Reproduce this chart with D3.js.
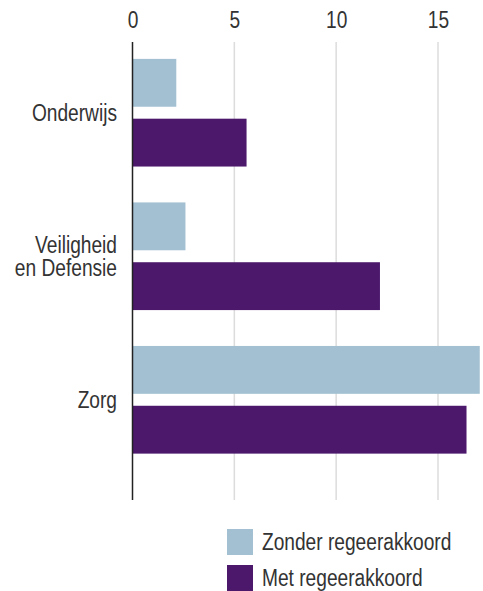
<!DOCTYPE html>
<html>
<head>
<meta charset="utf-8">
<script src="https://cdn.jsdelivr.net/npm/d3@7"></script>
<style>
  body { margin: 0; background: #fff; }
  text { font-family: "Liberation Sans", Arial, sans-serif; fill: #333; }
</style>
</head>
<body>
<div id="chart"></div>
<script>
// data
let categories = ["Onderwijs", "Veiligheid en Defensie", "Zorg"];
let categoryLines = [["Onderwijs"], ["Veiligheid", "en Defensie"], ["Zorg"]];
let series = ["Zonder regeerakkoord", "Met regeerakkoord"];
let zonderValues = [2.15, 2.6, 17.05];
let metValues = [5.6, 12.15, 16.4];
let ticks = [0, 5, 10, 15];
let colors = ["#a2c0d1", "#4b186b"];

let width = 483, height = 591;
let fontSize = 23.5;
let squeeze = 0.815; // narrow look, no condensed font installed

let svg = d3.select("#chart").append("svg")
    .attr("width", width)
    .attr("height", height);

// place a text at (px,py) and squeeze it horizontally
function place(px, py) {
    return "translate(" + px + "," + py + ") scale(" + squeeze + ",1)";
}

let x = d3.scaleLinear()
    .domain([0, 15])
    .range([132.5, 438]);

let y = d3.scaleBand()
    .domain(categories)
    .range([23, 489.5])
    .paddingInner(0.25)
    .paddingOuter(0.25);

let ySub = d3.scaleBand()
    .domain(series)
    .range([0, y.bandwidth()])
    .paddingInner(0.2);

let gridTop = 42, gridBottom = 500;

// grid lines
svg.append("g").selectAll("line")
    .data(ticks.filter(function(d) { return d > 0; }))
    .enter().append("line")
    .attr("x1", function(d) { return x(d); })
    .attr("x2", function(d) { return x(d); })
    .attr("y1", gridTop)
    .attr("y2", gridBottom)
    .style("stroke", "#dcdcdc")
    .style("stroke-width", 1.5);

// tick labels on top
let xAxis = svg.append("g")
    .attr("transform", "translate(0," + 28 + ")")
    .call(d3.axisTop(x).tickValues(ticks).tickSize(0).tickPadding(0));
xAxis.select(".domain").remove();
xAxis.selectAll("text")
    .attr("y", 0)
    .attr("dy", 0)
    .attr("transform", place(0, 0))
    .style("font-size", fontSize + "px")
    .style("font-family", "'Liberation Sans', Arial, sans-serif")
    .style("fill", "#333");

// bars
let rows = categories.map(function(c, i) {
    return { cat: c, values: [zonderValues[i], metValues[i]] };
});

let groups = svg.append("g").selectAll("g")
    .data(rows)
    .enter().append("g")
    .attr("transform", function(d) { return "translate(0," + y(d.cat) + ")"; });

groups.selectAll("rect")
    .data(function(d) { return d.values.map(function(v, j) { return { s: series[j], v: v, j: j }; }); })
    .enter().append("rect")
    .attr("x", x(0))
    .attr("y", function(d) { return ySub(d.s); })
    .attr("width", function(d) { return x(d.v) - x(0); })
    .attr("height", ySub.bandwidth())
    .style("fill", function(d) { return colors[d.j]; });

// zero line
svg.append("line")
    .attr("x1", x(0)).attr("x2", x(0))
    .attr("y1", gridTop).attr("y2", gridBottom)
    .style("stroke", "#222")
    .style("stroke-width", 1.5);

// category labels
let lineHeight = 23.5;
svg.append("g").selectAll("text")
    .data(categories)
    .enter().append("text")
    .attr("transform", function(d) { return place(117, y(d) + y.bandwidth() / 2); })
    .style("text-anchor", "end")
    .style("font-size", fontSize + "px")
    .each(function(d, i) {
        let lines = categoryLines[i];
        let el = d3.select(this);
        let first = 0.35 * fontSize - (lines.length - 1) * lineHeight / 2;
        lines.forEach(function(l, k) {
            el.append("tspan")
                .attr("x", 0)
                .attr("dy", k === 0 ? first : lineHeight)
                .text(l);
        });
    });

// legend
let legend = svg.append("g")
    .attr("transform", "translate(227,529)");

let items = legend.selectAll("g")
    .data(series)
    .enter().append("g")
    .attr("transform", function(d, i) { return "translate(0," + i * 36 + ")"; });

items.append("rect")
    .attr("width", 26)
    .attr("height", 26)
    .style("fill", function(d, i) { return colors[i]; });

items.append("text")
    .attr("transform", place(35, 21))
    .style("font-size", fontSize + "px")
    .text(function(d) { return d; });
</script>
</body>
</html>
